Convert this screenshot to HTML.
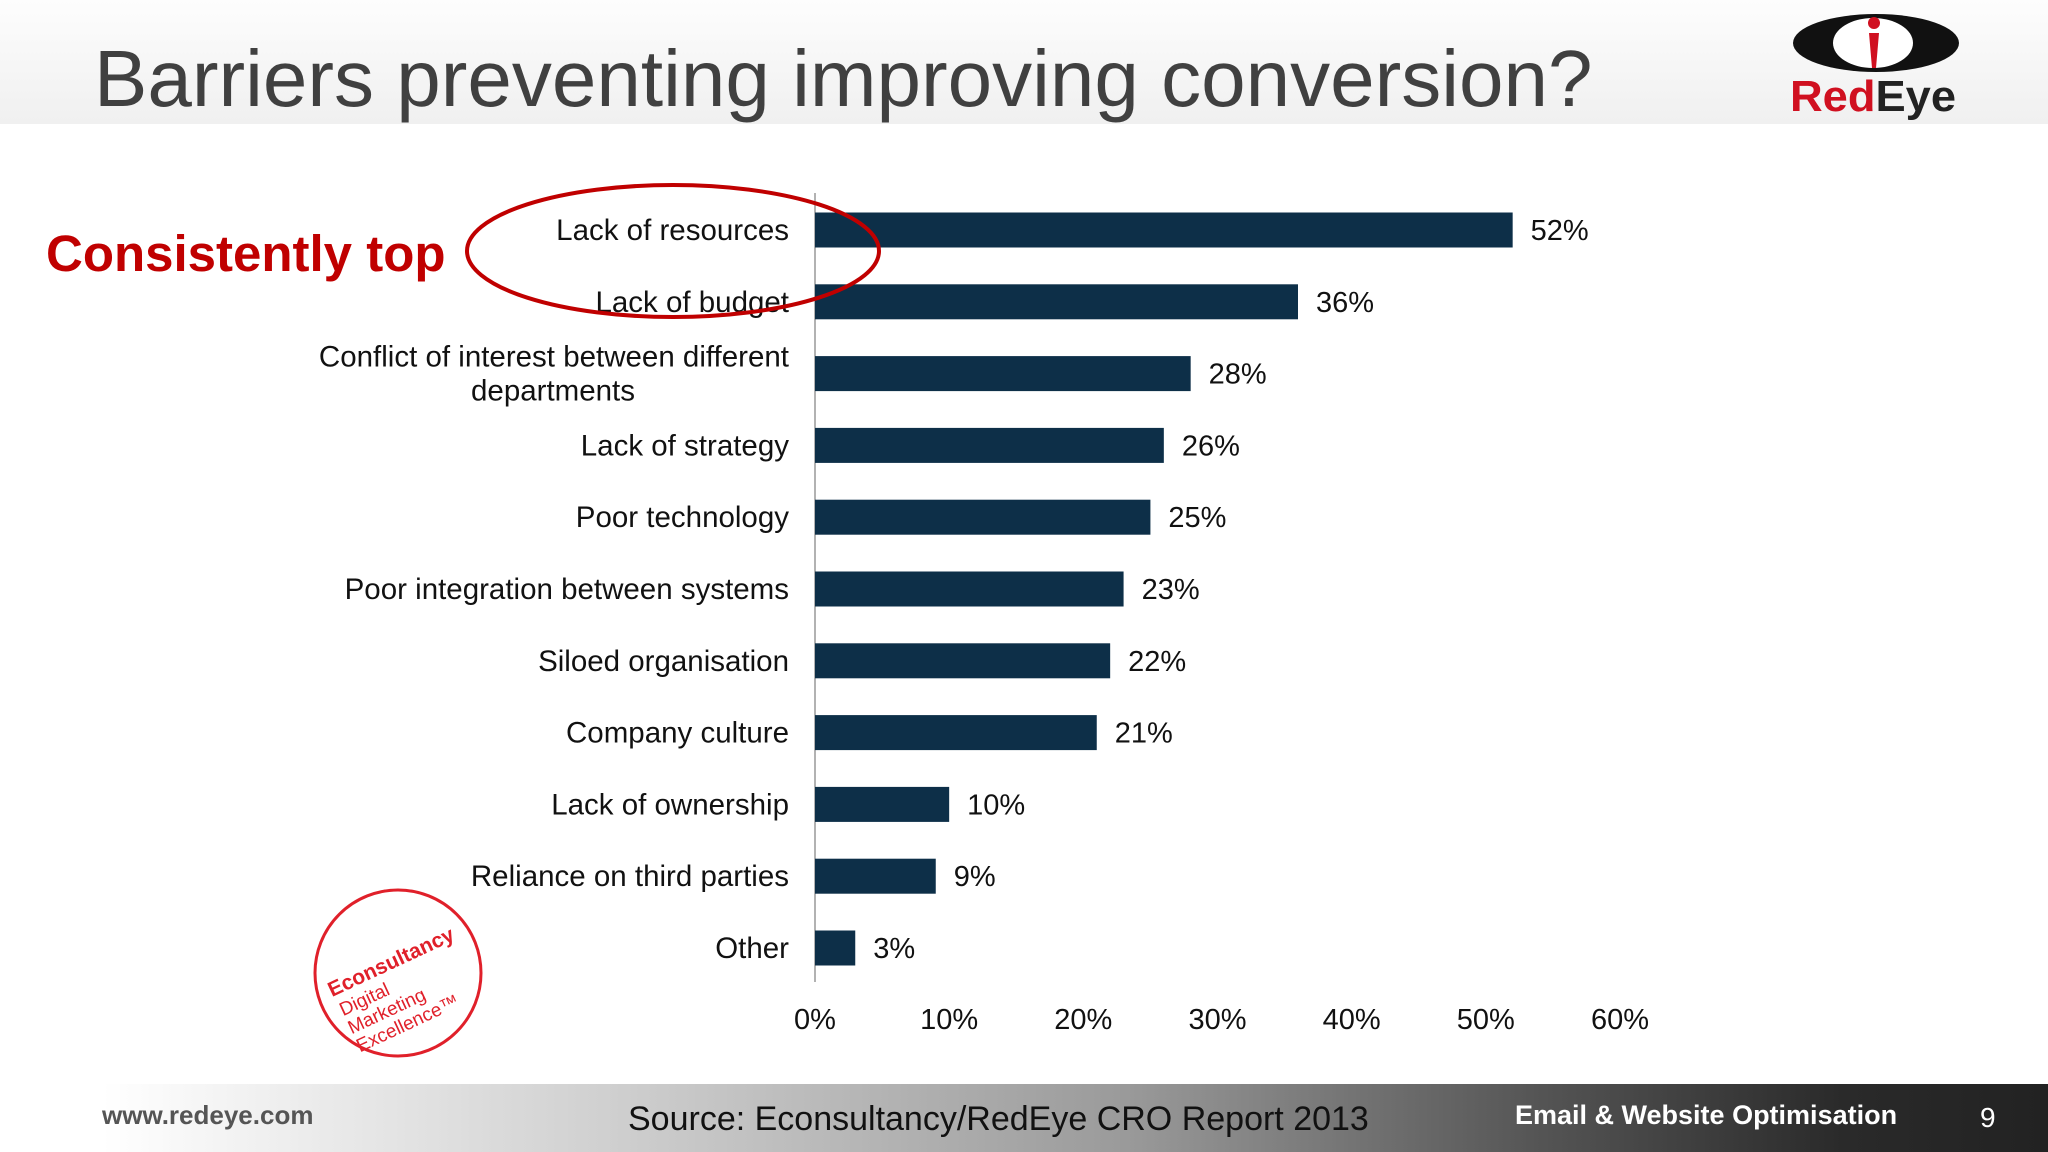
<!DOCTYPE html>
<html><head><meta charset="utf-8">
<style>
body{margin:0;width:2048px;height:1152px;overflow:hidden;background:#fff;font-family:"Liberation Sans",sans-serif;position:relative}
.abs{position:absolute}
</style></head>
<body>
<div class="abs" style="left:0;top:0;width:2048px;height:124px;background:linear-gradient(#fdfdfd,#f0f0f0)"></div>
<div class="abs" style="left:94px;top:34px;font-size:80px;color:#404040;white-space:nowrap;line-height:90px">Barriers preventing improving conversion?</div>
<svg class="abs" style="left:1780px;top:5px" width="200" height="115">
<ellipse cx="96" cy="38" rx="83" ry="29" fill="#111"/>
<ellipse cx="93" cy="38" rx="40" ry="25" fill="#fff"/>
<circle cx="94" cy="18" r="6" fill="#d01020"/>
<path d="M89 28 L99 28 L96 63 L92 63 Z" fill="#d01020"/>
<text x="10" y="106" font-family="Liberation Sans" font-weight="bold" font-size="44" textLength="166" lengthAdjust="spacingAndGlyphs"><tspan fill="#d01020">Red</tspan><tspan fill="#222">Eye</tspan></text>
</svg>
<div class="abs" style="left:46px;top:224px;font-size:51px;font-weight:bold;color:#c00000;white-space:nowrap">Consistently top</div>
<svg id="chart" class="abs" style="left:0;top:0" width="2048" height="1152"></svg>
<svg class="abs" style="left:310px;top:885px" width="180" height="180">
<circle cx="88" cy="88" r="83" fill="#fff" stroke="#e0202a" stroke-width="3"/>
<g transform="rotate(-25 88 88)" font-family="Liberation Sans" fill="#e0202a">
<text x="18" y="82" font-size="21" font-weight="bold">Econsultancy</text>
<text x="20" y="104" font-size="19">Digital</text>
<text x="20" y="124" font-size="19">Marketing</text>
<text x="20" y="144" font-size="19">Excellence™</text>
</g>
</svg>
<div class="abs" style="left:0;top:1084px;width:2048px;height:68px;background:linear-gradient(90deg,#ffffff 5%,#cfcfcf 30%,#9a9a9a 55%,#555 75%,#2a2a2a 90%,#222)"></div>
<div class="abs" style="left:102px;top:1100px;font-size:26px;font-weight:bold;color:#555">www.redeye.com</div>
<div class="abs" style="left:628px;top:1100px;font-size:34px;color:#111;white-space:nowrap">Source: Econsultancy/RedEye CRO Report 2013</div>
<div class="abs" style="left:1515px;top:1100px;font-size:27px;font-weight:bold;color:#fff;white-space:nowrap">Email &amp; Website Optimisation</div>
<div class="abs" style="left:1980px;top:1102px;font-size:28px;color:#fff">9</div>
<script>
const categories=["Lack of resources","Lack of budget","Conflict of interest between different|departments","Lack of strategy","Poor technology","Poor integration between systems","Siloed organisation","Company culture","Lack of ownership","Reliance on third parties","Other"];
const values=[52,36,28,26,25,23,22,21,10,9,3];
const ticks=[0,10,20,30,40,50,60];
const NS="http://www.w3.org/2000/svg";
const svg=document.getElementById('chart');
const x0=815,x1=1620,xmax=60,yTop=230,step=71.8,bh=35;
const xs=v=>x0+(x1-x0)*v/xmax;
const ys=i=>yTop+i*step;
function mk(t,a){const e=document.createElementNS(NS,t);for(const k in a)e.setAttribute(k,a[k]);svg.appendChild(e);return e;}
const ax=mk('line',{x1:x0,x2:x0,y1:193,y2:982,stroke:'#999','stroke-width':1.5});


values.forEach((v,i)=>{
 const r=mk('rect',{x:x0,y:ys(i)-bh/2,width:xs(v)-x0,height:bh,fill:'#0d2f48'});
 
 
 const t=mk('text',{x:xs(v)+18,y:ys(i)+10,'font-size':29,'font-family':'Liberation Sans',fill:'#111'});
 t.textContent=v+'%';
 
 
 const parts=categories[i].split('|');
 const c=mk('text',{x:789,y:ys(i)+10-(parts.length-1)*17,'font-size':29.5,'font-family':'Liberation Sans','text-anchor':'end',fill:'#111'});
 
 
 parts.forEach((p,j)=>{const s=document.createElementNS(NS,'tspan');s.setAttribute('x',j?553:789);s.setAttribute('dy',j?34:0);s.setAttribute('text-anchor',j?'middle':'end');s.textContent=p;c.appendChild(s);});
});
ticks.forEach(v=>{
 const t=mk('text',{x:xs(v),y:1029,'font-size':29,'font-family':'Liberation Sans','text-anchor':'middle',fill:'#111'});
 t.textContent=v+'%';
 
 
});
const el=mk('ellipse',{cx:673,cy:251,rx:206,ry:66,fill:'none',stroke:'#c00000','stroke-width':4});


</script>
</body></html>
